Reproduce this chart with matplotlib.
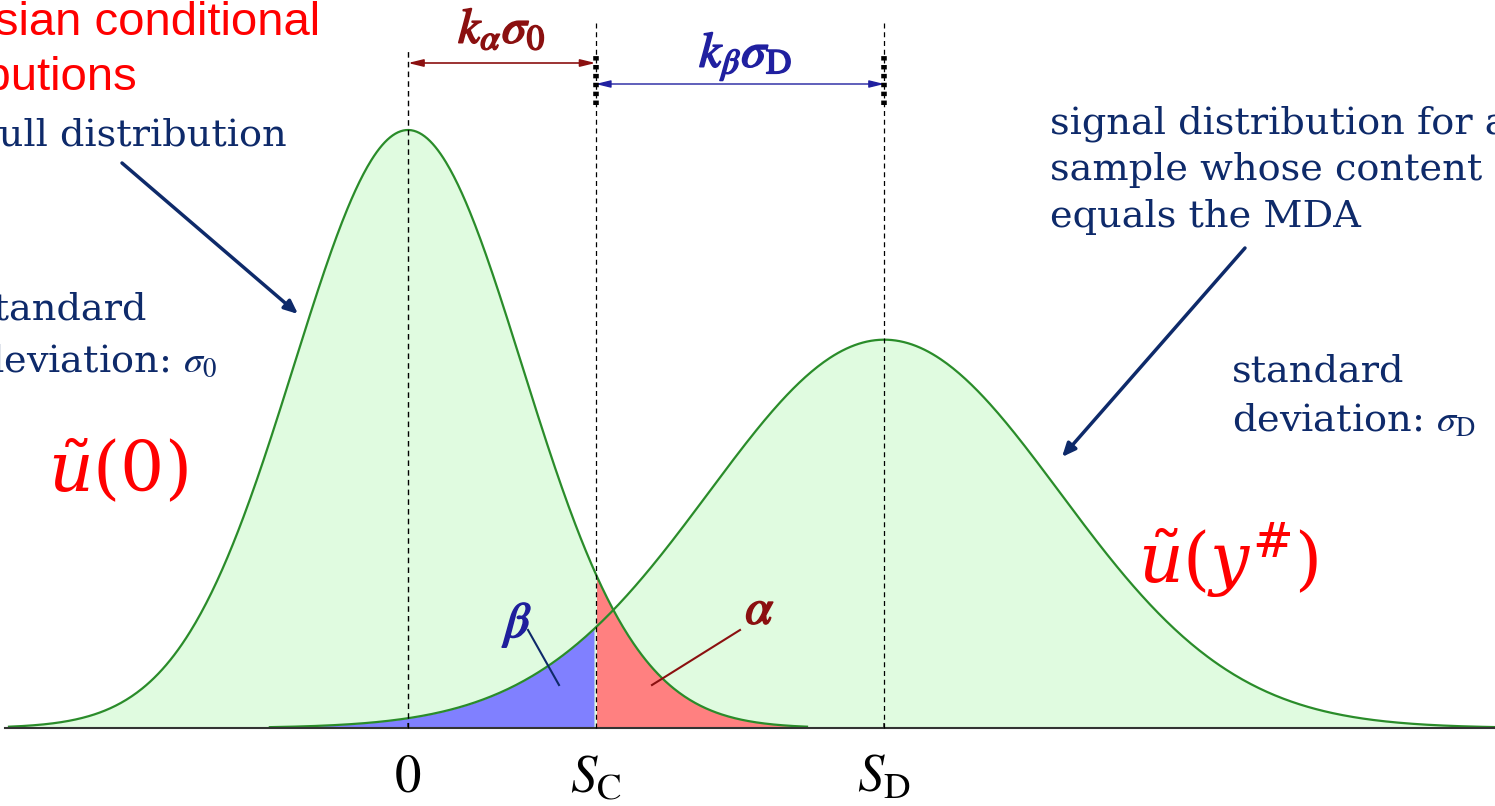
import numpy as np
import matplotlib
matplotlib.use("Agg")
import matplotlib.pyplot as plt
import matplotlib.patheffects as pe

# ---------- data ----------
means = [0.0, 4.178]          # 0 and S_D (in units of sigma_0)
sigmas = [1.0, 1.54]          # sigma_0, sigma_D
k_alpha = 1.645
k_beta = 1.645
s_c = means[0] + k_alpha * sigmas[0]
tick_pos = [means[0], s_c, means[1]]
tick_labels = [r"$0$", r"$S_\mathrm{C}$", r"$S_\mathrm{D}$"]
tail = 3.5                    # curves drawn out to +/- 3.5 sigma

# ---------- style ----------
W, H = 1495, 806
green_line = "#2a8c2a"
green_fill = "#e0fbe0"
navy = "#0e2a6a"
dark_red = "#8b1010"
blue_txt = "#1f1f9c"
plt.rcParams["mathtext.fontset"] = "stix"


def pdf(x, m, s):
    return np.exp(-0.5 * ((x - m) / s) ** 2) / (s * np.sqrt(2 * np.pi))


def fp(x, y):
    # pixel position (from top-left) -> figure fraction
    return (x / W, 1 - y / H)


fig = plt.figure(figsize=(W / 100, H / 100), dpi=100)
ax = fig.add_axes([0, 0, 1, 1])
px_unit = 114.0
ax.set_xlim(-408 / px_unit, (W - 408) / px_unit)
yscale = 598 / pdf(0, 0, 1)
ax.set_ylim(-78 / yscale, 728 / yscale)
ax.axis("off")

# ---------- curves ----------
curves = []
for m, s in zip(means, sigmas):
    x = np.linspace(m - tail * s, m + tail * s, 600)
    curves.append((x, pdf(x, m, s)))
    ax.fill_between(x, 0, pdf(x, m, s), color=green_fill, lw=0, zorder=1)

x0, y0 = curves[0]
xd, yd = curves[1]
ax.fill_between(xd, 0, yd, where=xd <= s_c, color="#8080ff", lw=0, zorder=2)
ax.fill_between(x0, 0, y0, where=x0 >= s_c, color="#ff8080", lw=0, zorder=2)
for x, y in curves:
    ax.plot(x, y, color=green_line, lw=1.6, zorder=3)

# baseline and ticks
ax.axhline(0, xmin=5 / W, color="#333333", lw=1.5, zorder=4)
ax.vlines([means[0], means[1]], 0, 5 / yscale, color="#333333", lw=1.2, zorder=4)

# dashed verticals
ax.vlines(means[0], 0, 678 / yscale, color="black", lw=1, ls=(0, (4, 3)), zorder=5)
ax.vlines([s_c, means[1]], 0, 706 / yscale, color="black", lw=0.9, ls=(0, (4, 3)), zorder=5)
ax.vlines([s_c, means[1]], 623 / yscale, 673 / yscale, color="black", lw=4,
          ls=(0, (0.8, 0.8)), zorder=5)

# k arrows
ya = (728 - 63) / yscale
ax.annotate("", xy=(s_c, ya), xytext=(means[0], ya),
            arrowprops=dict(arrowstyle="<|-|>,head_length=0.9,head_width=0.22",
                            color=dark_red, lw=1.2, shrinkA=0, shrinkB=0))
yb = (728 - 84) / yscale
ax.annotate("", xy=(means[1], yb), xytext=(s_c, yb),
            arrowprops=dict(arrowstyle="<|-|>,head_length=0.9,head_width=0.22",
                            color="#2020a0", lw=1.0, shrinkA=0, shrinkB=0))
t = ax.text((means[0] + s_c) / 2, (728 - 43) / yscale, r"$k_\alpha\sigma_0$",
            color=dark_red, fontsize=36, ha="center", va="baseline")
t.set_path_effects([pe.withStroke(linewidth=1.2, foreground=dark_red)])
t = ax.text((s_c + means[1]) / 2 + 0.05, (728 - 67) / yscale, r"$k_\beta\sigma_\mathrm{D}$",
            color="#2020a0", fontsize=36, ha="center", va="baseline")
t.set_path_effects([pe.withStroke(linewidth=1.2, foreground="#2020a0")])

# tick labels
for p, lab in zip(tick_pos, tick_labels):
    ax.text(p, (728 - 792) / yscale, lab, fontsize=38, ha="center", va="baseline",
            color="black")

# alpha / beta labels
t = fig.text(*fp(519, 637), r"$\beta$", color=blue_txt, fontsize=36, ha="center",
             va="baseline")
t.set_path_effects([pe.withStroke(linewidth=1.2, foreground=blue_txt)])
fig.add_artist(plt.Line2D([528 / W, 559 / W], [1 - 630 / H, 1 - 685 / H],
                          color=navy, lw=1.5))
t = fig.text(*fp(760, 624), r"$\alpha$", color=dark_red, fontsize=36, ha="center",
             va="baseline")
t.set_path_effects([pe.withStroke(linewidth=1.2, foreground=dark_red)])
fig.add_artist(plt.Line2D([740 / W, 652 / W], [1 - 630 / H, 1 - 685 / H],
                          color=dark_red, lw=1.5))

# ---------- text annotations ----------
fig.text(*fp(320, 35), "Gaussian conditional", color="red", fontsize=34,
         family="Liberation Sans", ha="right", va="baseline")
fig.text(*fp(137, 90), "distributions", color="red", fontsize=34,
         family="Liberation Sans", ha="right", va="baseline")

serif = dict(family="DejaVu Serif", color=navy, fontsize=27.5, va="baseline")
fig.text(*fp(287, 146), "null distribution", ha="right", **serif)
fig.text(*fp(147, 320), "standard", ha="right", **serif)
fig.text(*fp(217, 372), r"deviation: $\sigma_0$", ha="right", **serif)
fig.text(*fp(1050, 133), "signal distribution for a", ha="left", **serif)
fig.text(*fp(1050, 180), "sample whose content", ha="left", **serif)
fig.text(*fp(1050, 227), "equals the MDA", ha="left", **serif)
fig.text(*fp(1232, 382), "standard", ha="left", **serif)
fig.text(*fp(1232, 432), r"deviation: $\sigma_\mathrm{D}$", ha="left", **serif)

fig.text(*fp(48, 492), r"$\tilde{u}(0)$", color="red", fontsize=50,
         math_fontfamily="dejavuserif", ha="left", va="baseline")
fig.text(*fp(1138, 583), r"$\tilde{u}(y^{\#})$", color="red", fontsize=50,
         math_fontfamily="dejavuserif", ha="left", va="baseline")

# pointer arrows
ax.annotate("", xy=fp(298, 314), xytext=fp(122, 163), xycoords="figure fraction",
            textcoords="figure fraction",
            arrowprops=dict(arrowstyle="-|>,head_length=0.8,head_width=0.35",
                            color=navy, lw=2.5, shrinkA=0, shrinkB=0))
ax.annotate("", xy=fp(1062, 457), xytext=fp(1245, 248), xycoords="figure fraction",
            textcoords="figure fraction",
            arrowprops=dict(arrowstyle="-|>,head_length=0.8,head_width=0.35",
                            color=navy, lw=2.5, shrinkA=0, shrinkB=0))

fig.savefig("out.png", dpi=100)
